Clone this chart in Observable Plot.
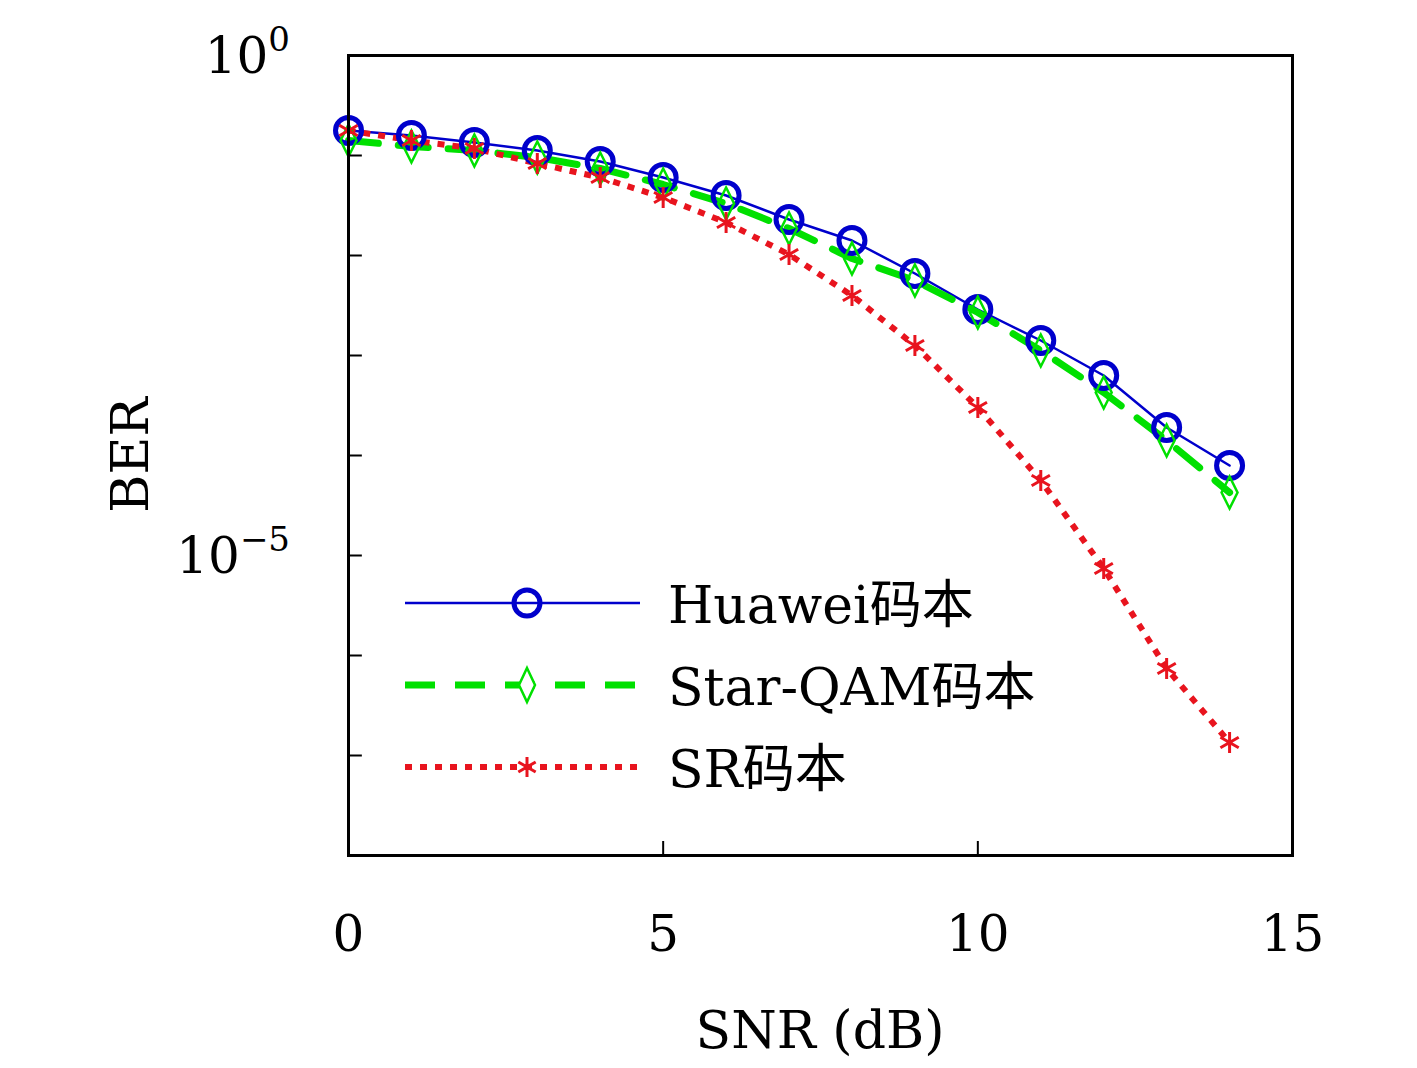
<!DOCTYPE html>
<html><head><meta charset="utf-8">
<script src="https://cdn.jsdelivr.net/npm/d3@7"></script>
<script src="https://cdn.jsdelivr.net/npm/@observablehq/plot@0.6"></script>
<style>body{margin:0;background:#fff}</style>
</head><body><div id="c"></div>
<script>
const snr = [0,1,2,3,4,5,6,7,8,9,10,11,12,13,14];
const huawei = [-0.75,-0.8,-0.87,-0.95,-1.06,-1.22,-1.4,-1.64,-1.85,-2.18,-2.54,-2.85,-3.2,-3.72,-4.1];
const starqam = [-0.85,-0.91,-0.95,-1.02,-1.13,-1.29,-1.48,-1.73,-2.03,-2.25,-2.57,-2.95,-3.37,-3.85,-4.37];
const sr = [-0.75,-0.85,-0.93,-1.08,-1.22,-1.42,-1.67,-1.99,-2.4,-2.9,-3.52,-4.25,-5.13,-6.13,-6.87];
const names = ["Huawei码本","Star-QAM码本","SR码本"];
const xTicks = [0,5,10,15];
const decades = [0,-1,-2,-3,-4,-5,-6,-7,-8];
const yLabels = [0,-5];

const mk = arr => snr.map((x,i)=>({x, y: Math.pow(10, arr[i])}));
const H = mk(huawei), S = mk(starqam), R = mk(sr);
const font = "'DejaVu Serif','Noto Sans CJK SC',serif";
const diamond = {draw(ctx, size){const r=Math.sqrt(size)*0.75; ctx.moveTo(0,-r*1.5); ctx.lineTo(r*0.75,0); ctx.lineTo(0,r*1.5); ctx.lineTo(-r*0.75,0); ctx.closePath();}};

const chart = Plot.plot({
  width:1417, height:1068, marginLeft:348, marginRight:125, marginTop:55, marginBottom:213,
  style:{fontFamily:font, background:"#fff"},
  x:{domain:[0,15]},
  y:{type:"log", domain:[1e-8,1]},
  marks:[
    Plot.line(H,{x:"x",y:"y",stroke:"#0000cc",strokeWidth:2.5}),
    Plot.line(S,{x:"x",y:"y",stroke:"#00e000",strokeWidth:7,strokeDasharray:"30,20"}),
    Plot.line(R,{x:"x",y:"y",stroke:"#e8141e",strokeWidth:6,strokeDasharray:"7,8",strokeLinecap:"butt"}),
    Plot.dot(H,{x:"x",y:"y",r:13,stroke:"#0000cc",strokeWidth:5,fill:"none"}),
    Plot.dot(S,{x:"x",y:"y",r:8,symbol:diamond,stroke:"#00e000",strokeWidth:2.5,fill:"none"}),
    Plot.dot(R,{x:"x",y:"y",r:10,symbol:"asterisk",stroke:"#e8141e",strokeWidth:3}),
    Plot.ruleY(decades.map(d=>Math.pow(10,d)),{x1:0,x2:0.22,stroke:"black",strokeWidth:2}),
    Plot.ruleX(xTicks,{y1:1e-8,y2:Math.pow(10,-7.86),stroke:"black",strokeWidth:2}),
    Plot.frame({stroke:"black",strokeWidth:3}),
    Plot.axisX({ticks:xTicks,tickSize:0,tickPadding:60,fontSize:50,label:null}),
    Plot.axisY({ticks:[],tickSize:0,label:null}),
  ]
});
document.getElementById("c").appendChild(chart);
const svg = d3.select(chart);
const ys = chart.scale("y");
yLabels.forEach(e=>{
  const t = svg.append("text").attr("x",290).attr("y",ys.apply(Math.pow(10,e))+18)
    .attr("text-anchor","end").attr("font-family",font).attr("font-size",50);
  t.append("tspan").text("10");
  t.append("tspan").attr("dy",-22).attr("font-size",34).text(e===0?"0":"−5");
});
svg.append("text").attr("x",820).attr("y",1048).attr("text-anchor","middle")
  .attr("font-family",font).attr("font-size",52).text("SNR (dB)");
svg.append("text").attr("transform","translate(148,455) rotate(-90)").attr("text-anchor","middle")
  .attr("font-family",font).attr("font-size",52).text("BER");
const leg = [
  {y:603,stroke:"#0000cc",w:2.5,dash:null},
  {y:685,stroke:"#00e000",w:7,dash:"30,20"},
  {y:767,stroke:"#e8141e",w:6,dash:"7,8"}];
leg.forEach((l,i)=>{
  const ln = svg.append("line").attr("x1",405).attr("x2",640).attr("y1",l.y).attr("y2",l.y)
    .attr("stroke",l.stroke).attr("stroke-width",l.w);
  if(l.dash) ln.attr("stroke-dasharray",l.dash);
  if(i===0) svg.append("circle").attr("cx",527).attr("cy",l.y).attr("r",13).attr("fill","none").attr("stroke",l.stroke).attr("stroke-width",5);
  if(i===1) svg.append("path").attr("d",`M527,${l.y-17}L535,${l.y}L527,${l.y+17}L519,${l.y}Z`).attr("fill","#fff").attr("stroke",l.stroke).attr("stroke-width",2.5);
  if(i===2) for(let a=0;a<180;a+=60){const r=10,c=Math.cos(a*Math.PI/180+Math.PI/2)*r,s=Math.sin(a*Math.PI/180+Math.PI/2)*r;
    svg.append("line").attr("x1",527-c).attr("y1",l.y-s).attr("x2",527+c).attr("y2",l.y+s).attr("stroke",l.stroke).attr("stroke-width",3);}
  svg.append("text").attr("x",668).attr("y",l.y+20).attr("text-anchor","start").attr("font-family",font).attr("font-size",52).text(names[i]);
});
</script></body></html>
